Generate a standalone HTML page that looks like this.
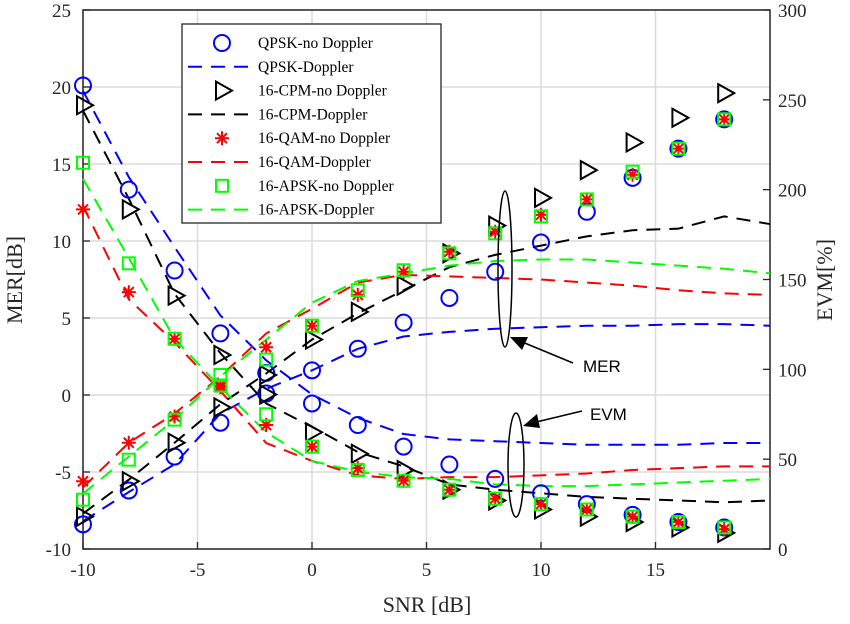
<!DOCTYPE html>
<html><head><meta charset="utf-8"><style>
body{margin:0;background:#fff;}
svg{display:block;font-family:"Liberation Serif",serif;}
</style></head><body>
<svg id="chart" width="850" height="624"></svg>
<script>
const snrMarkers=[-10,-8,-6,-4,-2,0,2,4,6,8,10,12,14,16,18];
const snrLines=[-10,-8,-6,-4,-2,0,2,4,6,8,10,12,14,16,18,20];
const xTicks=[-10,-5,0,5,10,15];
const merTicks=[-10,-5,0,5,10,15,20,25];
const evmTicks=[0,50,100,150,200,250,300];
// MER markers (dB)
const merQpsk=[-8.4,-6.2,-4.0,-1.8,0.1,1.6,3.0,4.7,6.3,8.0,9.9,11.9,14.1,16.0,17.9];
const merCpm=[-7.9,-5.6,-3.1,-0.8,1.3,3.6,5.4,7.1,9.2,11.0,12.8,14.6,16.4,18.0,19.6];
const merQam=[-5.6,-3.1,-1.4,0.5,3.1,4.5,6.5,8.0,9.3,10.6,11.7,12.7,14.3,16.0,17.9];
const merApsk=[-6.8,-4.2,-1.6,1.3,2.3,4.5,6.8,8.1,9.2,10.5,11.6,12.7,14.5,16.0,17.9];
// EVM markers (%)
const evmQpsk=[258,200,155,120,98,81,69,57,47,39,31,25,19,15,12];
const evmCpm=[247,189,141,108,86,65,53,44,33,27,22,18,15,12,9];
const evmQam=[189,143,117,91,69,57,45,38,33,28,25,22,18,15,11];
const evmApsk=[215,159,117,91,75,57,44,38,33,28,25,22,18,15,12];
// MER Doppler lines (dB)
const merQpskD=[-8.2,-6.3,-4.5,-1.2,0.4,1.6,3.0,3.8,4.1,4.3,4.4,4.5,4.5,4.6,4.6,4.5];
const merCpmD=[-7.7,-5.5,-3.1,-0.6,1.4,3.6,5.3,6.8,8.3,9.1,9.7,10.3,10.7,10.8,11.6,11.1];
const merQamD=[-6.0,-3.1,-1.2,1.2,4.0,5.6,7.3,7.8,7.7,7.6,7.5,7.3,7.1,6.8,6.6,6.5];
const merApskD=[-6.4,-4.0,-1.6,1.2,3.6,6.0,7.4,7.9,8.4,8.7,8.8,8.8,8.6,8.4,8.2,7.9];
// EVM Doppler lines (%)
const evmQpskD=[255,207,168,130,105,86,73,64,61,60,59,58,58,58,59,59];
const evmCpmD=[244,195,142,109,81,68,54,46,36,33,31,29,28,27,26,27];
const evmQamD=[191,139,115,88,59,49,41,39,40,40,41,42,44,45,46,46];
const evmApskD=[206,162,117,90,65,49,43,40,39,36,35,35,36,37,38,39];

const L=83,R=770,T=10,B=549;
const xs=v=>L+(v+10)/30*(R-L);
const yl=v=>B-(v+10)/35*(B-T);
const yr=v=>B-v/300*(B-T);
const NS='http://www.w3.org/2000/svg';
const svg=document.getElementById('chart');
function mk(tag,attrs,parent){const e=document.createElementNS(NS,tag);for(const k in attrs)e.setAttribute(k,attrs[k]);(parent||svg).appendChild(e);return e;}

// grid
const grid=mk('g',{});


xTicks.forEach(v=>{mk('line',{x1:xs(v),x2:xs(v),y1:T,y2:B,stroke:'#dcdcdc','stroke-width':1.5},grid);});
merTicks.forEach(v=>{mk('line',{x1:L,x2:R,y1:yl(v),y2:yl(v),stroke:'#dcdcdc','stroke-width':1.5},grid);});

// axes box
const box=mk('rect',{x:L,y:T,width:R-L,height:B-T,fill:'none',stroke:'#262626','stroke-width':1.5});


const ax=mk('g',{'font-size':19,fill:'#262626'});


xTicks.forEach(v=>{
  mk('line',{x1:xs(v),x2:xs(v),y1:B,y2:B-7,stroke:'#262626','stroke-width':1.3},ax);
  const t=mk('text',{x:xs(v),y:B+27,'text-anchor':'middle'},ax);t.textContent=v;
  
  
});
merTicks.forEach(v=>{
  mk('line',{x1:L,x2:L+7,y1:yl(v),y2:yl(v),stroke:'#262626','stroke-width':1.3},ax);
  const t=mk('text',{x:L-12,y:yl(v)+7,'text-anchor':'end'},ax);t.textContent=v;
  
  
});
evmTicks.forEach(v=>{
  mk('line',{x1:R,x2:R-7,y1:yr(v),y2:yr(v),stroke:'#262626','stroke-width':1.3},ax);
  const t=mk('text',{x:R+8,y:yr(v)+7,'text-anchor':'start'},ax);t.textContent=v;
  
  
});
const xl=mk('text',{x:427,y:612,'text-anchor':'middle','font-size':22,fill:'#262626'});xl.textContent='SNR [dB]';


const ylt=mk('text',{x:0,y:0,'text-anchor':'middle','font-size':22,fill:'#262626',transform:'translate(22,280) rotate(-90)'});ylt.textContent='MER[dB]';


const yrt=mk('text',{x:0,y:0,'text-anchor':'middle','font-size':22,fill:'#262626',transform:'translate(832,280) rotate(-90)'});yrt.textContent='EVM[%]';



function line(arr,yf,color,name){
  const pts=snrLines.map((x,i)=>xs(x)+','+yf(arr[i])).join(' ');
  const p=mk('polyline',{points:pts,fill:'none',stroke:color,'stroke-width':2,'stroke-dasharray':'14,9'});
  
  
}
function marker(kind,color,cx,cy,g){
  if(kind==='o')mk('circle',{cx:cx,cy:cy,r:8,fill:'none',stroke:color,'stroke-width':2},g);
  else if(kind==='tri')mk('polygon',{points:(cx-6)+','+(cy-9)+' '+(cx+10)+','+cy+' '+(cx-6)+','+(cy+9),fill:'none',stroke:color,'stroke-width':2},g);
  else if(kind==='sq')mk('rect',{x:cx-6,y:cy-6,width:12,height:12,fill:'none',stroke:color,'stroke-width':2},g);
  else if(kind==='star'){
    const d=7;
    mk('path',{d:`M${cx-d},${cy}H${cx+d}M${cx},${cy-d}V${cy+d}M${cx-5},${cy-5}L${cx+5},${cy+5}M${cx-5},${cy+5}L${cx+5},${cy-5}`,stroke:color,'stroke-width':2},g);
  }
}
function markers(arr,yf,kind,color,name){
  const g=mk('g',{});
  
  
  snrMarkers.forEach((x,i)=>marker(kind,color,xs(x),yf(arr[i]),g));
}
const BL='#0000ff',BK='#000',RD='#ff0000',GR='#00ff00';
line(merQpskD,yl,BL,'mer-qpsk-doppler-line');line(evmQpskD,yr,BL,'evm-qpsk-doppler-line');
line(merCpmD,yl,BK,'mer-cpm-doppler-line');line(evmCpmD,yr,BK,'evm-cpm-doppler-line');
line(merQamD,yl,RD,'mer-qam-doppler-line');line(evmQamD,yr,RD,'evm-qam-doppler-line');
line(merApskD,yl,GR,'mer-apsk-doppler-line');line(evmApskD,yr,GR,'evm-apsk-doppler-line');
markers(merQpsk,yl,'o',BL,'mer-qpsk-markers');markers(evmQpsk,yr,'o',BL,'evm-qpsk-markers');
markers(merCpm,yl,'tri',BK,'mer-cpm-markers');markers(evmCpm,yr,'tri',BK,'evm-cpm-markers');
markers(merQam,yl,'star',RD,'mer-qam-markers');markers(evmQam,yr,'star',RD,'evm-qam-markers');
markers(merApsk,yl,'sq',GR,'mer-apsk-markers');markers(evmApsk,yr,'sq',GR,'evm-apsk-markers');

// annotations
const an=mk('g',{stroke:'#000','stroke-width':1.5,fill:'none'});


mk('ellipse',{cx:505,cy:269,rx:7,ry:78},an);
mk('ellipse',{cx:516,cy:465,rx:8,ry:52},an);
mk('line',{x1:573,y1:363,x2:515,y2:339},an);
mk('polygon',{points:'510,337 528,337 522,350',fill:'#000',stroke:'none'},an);
mk('line',{x1:582,y1:411,x2:528,y2:424},an);
mk('polygon',{points:'523,426 537,414 540,428',fill:'#000',stroke:'none'},an);
const mt=mk('text',{x:583,y:372,'font-family':'Liberation Sans, sans-serif','font-size':17,fill:'#000'});mt.textContent='MER';


const et=mk('text',{x:590,y:420,'font-family':'Liberation Sans, sans-serif','font-size':17,fill:'#000'});et.textContent='EVM';



// legend
const lg=mk('g',{});


mk('rect',{x:182,y:24,width:259,height:199,fill:'#fff',stroke:'#262626','stroke-width':1.3},lg);
const entries=[['o',BL,'QPSK-no Doppler'],['l',BL,'QPSK-Doppler'],['tri',BK,'16-CPM-no Doppler'],['l',BK,'16-CPM-Doppler'],['star',RD,'16-QAM-no Doppler'],['l',RD,'16-QAM-Doppler'],['sq',GR,'16-APSK-no Doppler'],['l',GR,'16-APSK-Doppler']];
entries.forEach((e,i)=>{
  const y=43+i*23.8;
  const g=mk('g',{},lg);
  
  
  if(e[0]==='l')mk('line',{x1:188,x2:253,y1:y,y2:y,stroke:e[1],'stroke-width':2,'stroke-dasharray':'14,9'},g);
  else marker(e[0],e[1],222,y,g);
  const t=mk('text',{x:258,y:y+5,'font-size':15.5,fill:'#000'},g);t.textContent=e[2];
});
</script>
</body></html>
